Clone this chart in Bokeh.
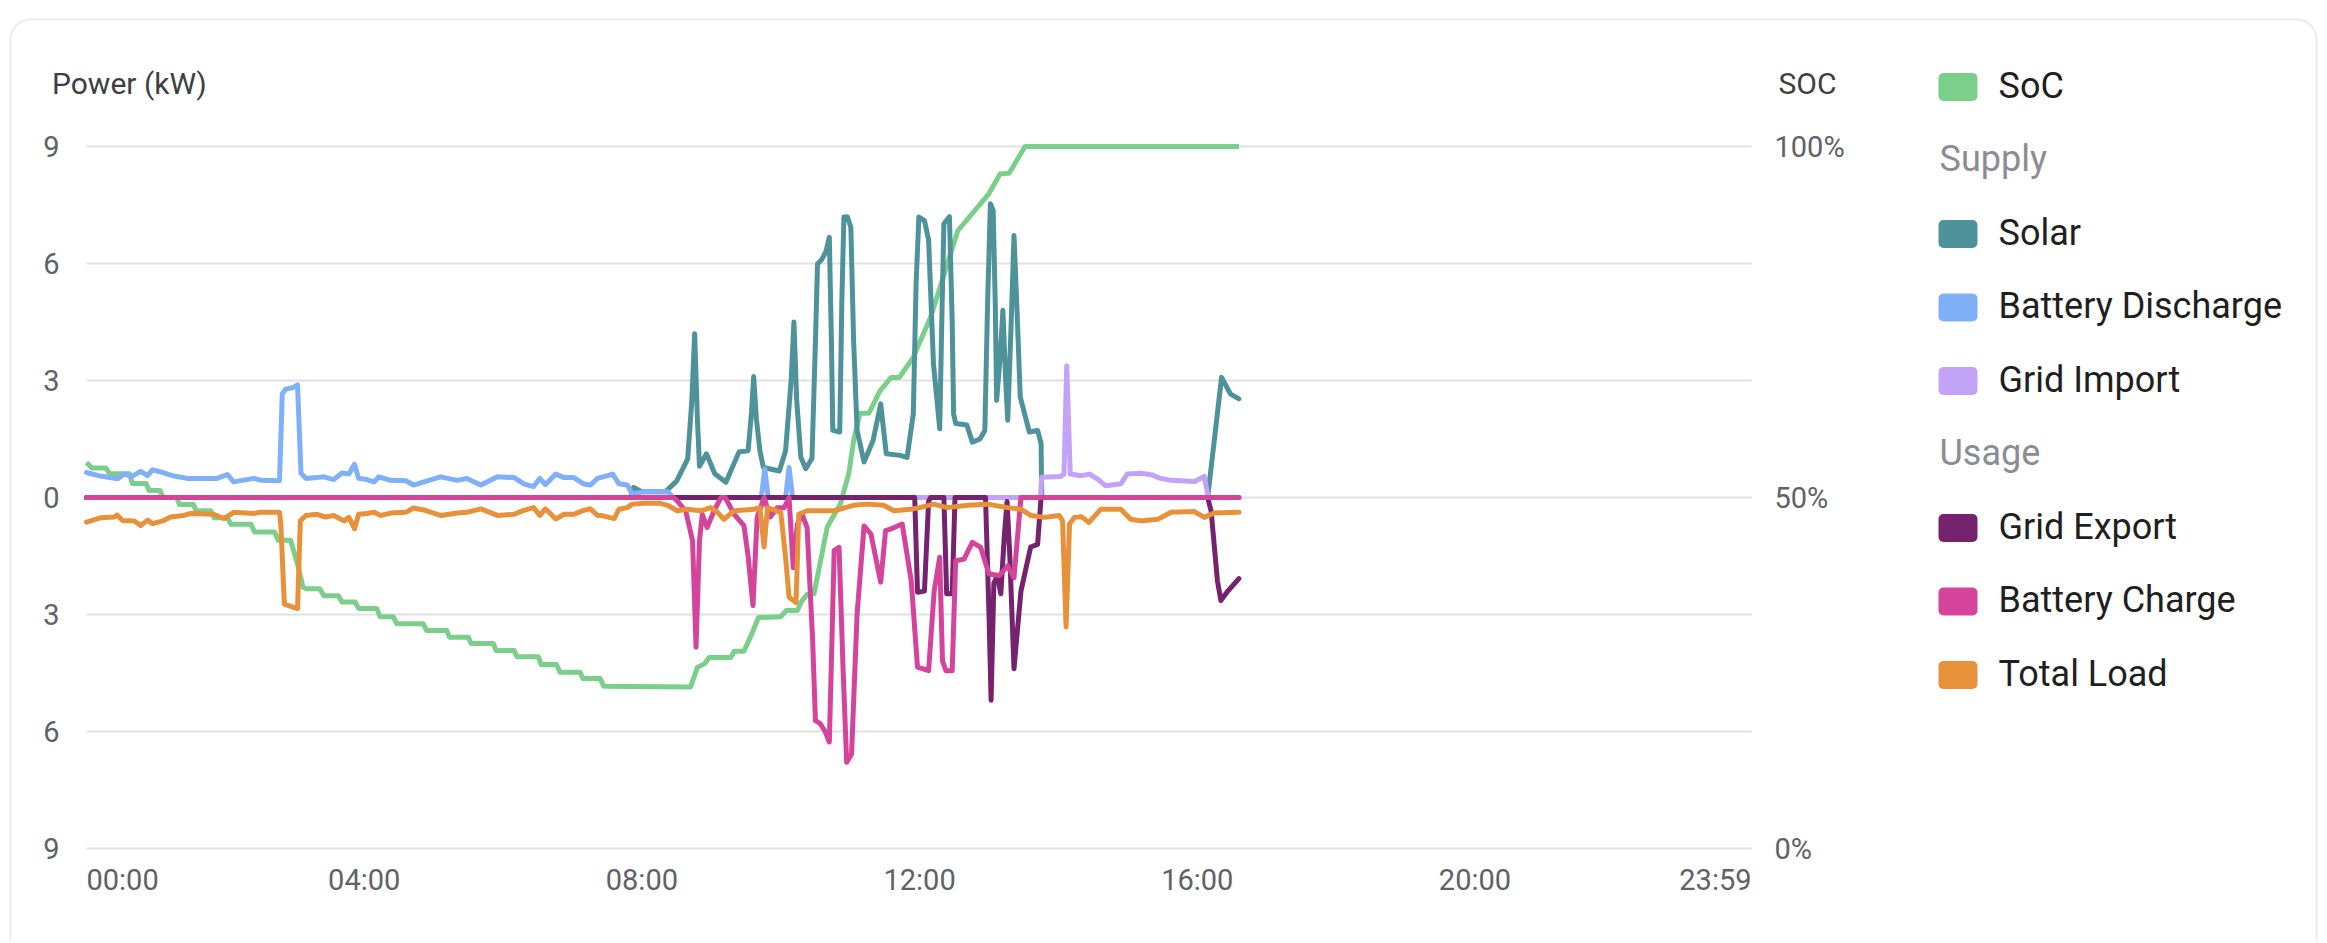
from bokeh.plotting import figure
from bokeh.models import Range1d, LinearAxis, FixedTicker, ColumnDataSource
from bokeh.embed import file_html
from bokeh.resources import INLINE
from bokeh.core.properties import value

# ---------------- data (time in hours, power in kW, SoC in %) ----------------
soc_t = [0.0, 0.08, 0.28, 0.33, 0.62, 0.66, 0.86, 0.9, 1.06, 1.1, 1.3, 1.34, 1.54, 1.58, 1.79,
         1.84, 2.03, 2.08, 2.37, 2.42, 2.71, 2.76, 2.94, 3.04, 3.12, 3.17, 3.36, 3.42, 3.63, 3.68,
         3.87, 3.92, 4.18, 4.23, 4.42, 4.47, 4.85, 4.9, 5.19, 5.23, 5.5, 5.54, 5.86, 5.9, 6.16,
         6.2, 6.51, 6.55, 6.77, 6.82, 7.11, 7.15, 7.4, 7.45, 8.7, 8.8, 8.9, 8.97, 9.28, 9.33,
         9.47, 9.58, 9.68, 10.0, 10.08, 10.24, 10.3, 10.38, 10.48, 10.67, 10.86, 10.98, 11.05,
         11.14, 11.27, 11.43, 11.59, 11.71, 11.91, 12.16, 12.55, 13.0, 13.16, 13.29, 13.52, 16.6]
soc_v = [55.0, 54.2, 54.2, 53.4, 53.4, 52.0, 52.0, 51.0, 51.0, 50.0, 50.0, 49.0, 49.0, 48.1, 48.1,
         47.1, 47.1, 46.2, 46.2, 45.1, 45.1, 43.9, 43.9, 40.5, 37.2, 37.0, 37.0, 36.0, 36.0, 35.1,
         35.1, 34.2, 34.2, 33.0, 33.0, 32.0, 32.0, 31.05, 31.05, 30.1, 30.1, 29.2, 29.2, 28.2, 28.2,
         27.3, 27.3, 26.2, 26.2, 25.1, 25.1, 24.2, 24.2, 23.1, 23.0, 25.8, 26.3, 27.2, 27.2, 28.1,
         28.1, 30.5, 32.9, 33.0, 33.9, 33.9, 35.2, 36.2, 36.3, 45.8, 49.1, 53.4, 58.1,
         62.0, 62.0, 65.2, 67.1, 67.1, 70.0, 75.7, 88.0, 93.3, 96.1, 96.2, 100.0, 100.0]

solar_t = [0.0, 7.84, 7.88, 8.0, 8.34, 8.5, 8.66, 8.72, 8.76, 8.8, 8.83, 8.93, 9.05, 9.21, 9.4,
           9.53, 9.58, 9.61, 9.65, 9.7, 9.75, 9.98, 10.07, 10.15, 10.19, 10.23, 10.29, 10.36,
           10.45, 10.5, 10.53, 10.59, 10.65, 10.7, 10.73, 10.75, 10.85, 10.88, 10.91, 10.96,
           11.01, 11.05, 11.1, 11.2, 11.33, 11.44, 11.52, 11.72, 11.82, 11.91, 11.95, 11.99,
           12.07, 12.13, 12.2, 12.29, 12.32, 12.35, 12.43, 12.47, 12.49, 12.52, 12.68, 12.76,
           12.87, 12.94, 12.98, 13.02, 13.06, 13.09, 13.11, 13.16, 13.2, 13.24, 13.27, 13.32,
           13.36, 13.41, 13.45, 13.58, 13.7, 13.75, 13.76, 16.15, 16.35, 16.48, 16.6]
solar_v = [0.0, 0.0, 0.26, 0.15, 0.15, 0.42, 0.99, 2.5, 4.2, 2.0, 0.8, 1.12, 0.61, 0.39, 1.17,
           1.2, 2.2, 3.1, 2.0, 1.2, 0.77, 0.68, 1.2, 3.0, 4.5, 2.5, 1.03, 0.74,
           1.0, 4.0, 5.99, 6.1, 6.3, 6.67, 4.0, 1.72, 1.68, 5.0, 7.19, 7.2,
           6.93, 4.0, 1.72, 0.91, 1.46, 2.4, 1.12, 1.08, 1.03, 2.15, 5.5, 7.19,
           7.1, 6.6, 3.43, 1.76, 4.5, 7.02, 7.2, 4.5, 2.15, 1.9, 1.86, 1.42,
           1.5, 1.72, 5.0, 7.53, 7.36, 5.0, 2.49, 3.6, 4.8, 3.0, 1.98, 4.5,
           6.72, 4.5, 2.58, 1.68, 1.72, 1.39, 0.0, 0.0, 3.08, 2.65, 2.53]

bdis_t = [0.0, 0.2, 0.45, 0.55, 0.64, 0.78, 0.88, 0.95, 1.1, 1.26, 1.45, 1.88, 2.03, 2.12, 2.41,
          2.52, 2.78, 2.82, 2.87, 2.98, 3.04, 3.09, 3.16, 3.32, 3.42, 3.56, 3.68, 3.78, 3.86,
          3.92, 4.04, 4.14, 4.21, 4.38, 4.6, 4.71, 4.86, 5.1, 5.34, 5.48, 5.68, 5.92, 6.16, 6.3,
          6.44, 6.53, 6.61, 6.76, 6.88, 7.02, 7.16, 7.26, 7.36, 7.44, 7.58, 7.67, 7.79, 7.86,
          8.03, 8.37, 8.45, 9.72, 9.77, 9.82, 10.07, 10.12, 10.17, 16.6]
bdis_v = [0.64, 0.55, 0.48, 0.61, 0.53, 0.67, 0.56, 0.71, 0.64, 0.55, 0.49, 0.49, 0.59, 0.40, 0.49,
          0.44, 0.43, 2.66, 2.78, 2.82, 2.89, 0.62, 0.49, 0.51, 0.53, 0.46, 0.63, 0.60, 0.85,
          0.49, 0.46, 0.40, 0.53, 0.44, 0.43, 0.32, 0.40, 0.53, 0.44, 0.49, 0.32, 0.53, 0.51, 0.35,
          0.28, 0.49, 0.33, 0.60, 0.51, 0.51, 0.35, 0.32, 0.49, 0.53, 0.60, 0.35, 0.32, 0.09,
          0.15, 0.15, 0.0, 0.0, 0.73, 0.0, 0.0, 0.77, 0.0, 0.0]

gimp_t = [0.0, 13.74, 13.76, 14.03, 14.08, 14.12, 14.17, 14.33, 14.45, 14.58, 14.68, 14.9, 14.99,
          15.19, 15.35, 15.45, 15.62, 15.96, 16.1, 16.15, 16.17, 16.6]
gimp_v = [0.0, 0.0, 0.52, 0.54, 0.6, 3.38, 0.6, 0.56, 0.6, 0.45, 0.3, 0.35, 0.6,
          0.62, 0.58, 0.5, 0.44, 0.41, 0.54, 0.08, 0.0, 0.0]

gexp_t = [0.0, 11.93, 11.97, 12.07, 12.13, 12.16, 12.35, 12.39, 12.47, 12.51, 12.95, 13.0, 13.03,
          13.07, 13.12, 13.17, 13.22, 13.26, 13.3, 13.36, 13.46, 13.6, 13.7, 13.75, 16.15, 16.2,
          16.29, 16.34, 16.44, 16.6]
gexp_v = [0.0, 0.0, -2.43, -2.4, -0.1, 0.0, 0.0, -2.47, -2.47, 0.0, 0.0, -3.0, -5.2,
          -2.2, -2.0, -2.47, -1.0, -0.1, -1.5, -4.39, -2.4, -1.27, -1.2, 0.0, 0.0, -0.35,
          -2.13, -2.64, -2.4, -2.08]

bchg_t = [0.0, 8.45, 8.49, 8.63, 8.73, 8.78, 8.83, 8.87, 8.94, 9.04, 9.14, 9.2, 9.33, 9.47, 9.53,
          9.6, 9.66, 9.76, 9.85, 9.95, 10.05, 10.12, 10.18, 10.24, 10.31, 10.38, 10.46, 10.5,
          10.57, 10.64, 10.7, 10.74, 10.77, 10.84, 10.9, 10.95, 11.02, 11.1, 11.2, 11.3, 11.44,
          11.51, 11.61, 11.75, 11.88, 11.97, 12.13, 12.21, 12.29, 12.33, 12.38, 12.47, 12.52,
          12.64, 12.76, 12.88, 13.0, 13.15, 13.27, 13.36, 13.46, 16.6]
bchg_v = [0.0, 0.0, -0.05, -0.34, -1.11, -3.84, -1.1, -0.43, -0.77, -0.34, 0.0, 0.0, -0.43, -0.72, -1.5,
          -2.77, -0.51, 0.0, -0.5, -0.26, -0.26, 0.0, -1.8, -0.68, -0.43, -0.77, -3.67, -5.72,
          -5.8, -6.0, -6.27, -3.5, -1.36, -1.28, -4.5, -6.79, -6.58, -2.99, -0.73, -0.94, -2.17,
          -0.85, -0.79, -0.68, -2.14, -4.35, -4.44, -2.4, -1.53, -4.19, -4.44, -4.44, -1.62,
          -1.58, -1.15, -1.28, -1.96, -2.0, -1.75, -2.06, 0.0, 0.0]

load_t = [0.0, 0.2, 0.4, 0.44, 0.52, 0.69, 0.78, 0.88, 0.95, 1.1, 1.21, 1.4, 1.5, 1.83, 1.98, 2.12,
          2.41, 2.5, 2.78, 2.8, 2.85, 2.94, 3.04, 3.08, 3.16, 3.32, 3.44, 3.56, 3.71, 3.78, 3.86,
          3.92, 4.04, 4.14, 4.24, 4.38, 4.6, 4.71, 4.86, 5.1, 5.34, 5.48, 5.68, 5.92, 6.16, 6.3,
          6.44, 6.53, 6.61, 6.76, 6.88, 7.02, 7.16, 7.26, 7.36, 7.41, 7.6, 7.67, 7.79, 7.86, 8.03,
          8.27, 8.37, 8.51, 8.65, 8.85, 8.99, 9.09, 9.18, 9.33, 9.62, 9.7, 9.76, 9.81, 10.0, 10.07,
          10.12, 10.22, 10.26, 10.38, 10.77, 11.05, 11.24, 11.48, 11.63, 11.87, 12.0, 12.2, 12.4,
          12.69, 12.98, 13.27, 13.46, 13.6, 13.8, 14.01, 14.06, 14.11, 14.16, 14.23, 14.33, 14.44,
          14.61, 14.9, 15.04, 15.19, 15.43, 15.62, 15.96, 16.1, 16.24, 16.6]
load_v = [-0.63, -0.52, -0.5, -0.45, -0.59, -0.6, -0.72, -0.58, -0.67, -0.6, -0.5, -0.46, -0.41,
          -0.43, -0.54, -0.38, -0.41, -0.38, -0.38, -0.72, -2.73, -2.79, -2.85, -0.6, -0.46, -0.43,
          -0.5, -0.46, -0.6, -0.51, -0.8, -0.43, -0.41, -0.38, -0.46, -0.4, -0.38, -0.27, -0.32,
          -0.46, -0.4, -0.38, -0.29, -0.46, -0.43, -0.33, -0.26, -0.46, -0.29, -0.55, -0.43, -0.43,
          -0.33, -0.29, -0.46, -0.46, -0.54, -0.3, -0.26, -0.17, -0.15, -0.15, -0.2, -0.34, -0.3,
          -0.34, -0.26, -0.38, -0.56, -0.34, -0.3, -0.26, -1.27, -0.26, -0.38, -1.54, -2.56, -2.69,
          -0.43, -0.34, -0.34, -0.2, -0.17, -0.2, -0.34, -0.3, -0.26, -0.17, -0.26, -0.2, -0.17,
          -0.26, -0.3, -0.46, -0.51, -0.46, -0.6, -3.32, -0.68, -0.51, -0.49, -0.64, -0.3, -0.3,
          -0.56, -0.6, -0.56, -0.38, -0.36, -0.51, -0.4, -0.38]

power_ticks = [-9, -6, -3, 0, 3, 6, 9]
power_labels = ["9", "6", "3", "0", "3", "6", "9"]
soc_ticks = [0, 50, 100]
soc_labels = ["0%", "50%", "100%"]
X_END = 23 + 59 / 60
time_ticks = [0, 4, 8, 12, 16, 20, X_END]
time_labels = ["00:00", "04:00", "08:00", "12:00", "16:00", "20:00", "23:59"]

series_names = ["SoC", "Solar", "Battery Discharge", "Grid Import", "Grid Export", "Battery Charge", "Total Load"]
series_colors = ["#7ccf8a", "#4e9399", "#80b0f7", "#c3a3f7", "#75226f", "#d4449b", "#e8913b"]
legend_rows = ["SoC", "Supply", "Solar", "Battery Discharge", "Grid Import", "Usage",
               "Grid Export", "Battery Charge", "Total Load"]

# ---------------- layout constants (page pixels) ----------------
PAGE_L, PAGE_T, W, H = 0, 0, 2325, 941
PLOT_L, PLOT_R, PLOT_T, PLOT_B = 86, 1751, 146, 848      # plotting area (00:00..23:59, +9..-9)
pph = (PLOT_R - PLOT_L) / X_END                           # px per hour
ppk = (PLOT_B - PLOT_T) / 18.0                            # px per kW
pps = (PLOT_B - PLOT_T) / 100.0                           # px per % SoC

x_rng = Range1d(-(PLOT_L - PAGE_L) / pph, X_END + (PAGE_L + W - PLOT_R) / pph)
y_rng = Range1d(-9 - (PAGE_T + H - PLOT_B) / ppk, 9 + (PLOT_T - PAGE_T) / ppk)

FONT = "Roboto"
p = figure(width=W, height=H, x_range=x_rng, y_range=y_rng, output_backend="svg",
           toolbar_location=None, x_axis_location=None, y_axis_location=None, min_border=0)
p.title.visible = False
p.outline_line_color = None
p.background_fill_color = "white"
p.border_fill_color = "white"
p.xgrid.visible = False
p.ygrid.visible = False
p.extra_y_ranges = {"soc": Range1d(-(PAGE_T + H - PLOT_B) / pps, 100 + (PLOT_T - PAGE_T) / pps),
                    "px": Range1d(PAGE_T + H, PAGE_T)}
p.extra_x_ranges = {"px": Range1d(PAGE_L, PAGE_L + W)}

# card outline
try:
    p.quad(left=[10], right=[2316], top=[19], bottom=[1000], x_range_name="px", y_range_name="px",
           fill_color=None, line_color="#ebebeb", line_width=2, border_radius=20)
except Exception:
    p.quad(left=[10], right=[2316], top=[19], bottom=[1000], x_range_name="px", y_range_name="px",
           fill_color=None, line_color="#ebebeb", line_width=2)

# horizontal grid lines at the power ticks
p.segment(x0=[0] * len(power_ticks), x1=[X_END] * len(power_ticks), y0=power_ticks, y1=power_ticks,
          line_color="#e1e1e1", line_width=2)

# axes drawn at the edges of the plotting area
ya = LinearAxis(ticker=FixedTicker(ticks=power_ticks), fixed_location=0,
                major_label_overrides={t: s for t, s in zip(power_ticks, power_labels)})
ra = LinearAxis(y_range_name="soc", ticker=FixedTicker(ticks=soc_ticks), fixed_location=X_END,
                major_label_overrides={t: s for t, s in zip(soc_ticks, soc_labels)})
for ax, standoff in ((ya, 21), (ra, 17)):
    ax.axis_line_color = None
    ax.major_tick_line_color = None
    ax.minor_tick_line_color = None
    ax.major_label_standoff = standoff
    ax.major_label_text_font = FONT
    ax.major_label_text_font_size = "29px"
    ax.major_label_text_color = "#5f6368"
p.add_layout(ya, "left")
p.add_layout(ra, "right")

# series
LW = 5
p.line(soc_t, soc_v, y_range_name="soc", line_color=series_colors[0], line_width=LW, line_join="round")
for t, v, c in [(solar_t, solar_v, series_colors[1]), (bdis_t, bdis_v, series_colors[2]),
                (gimp_t, gimp_v, series_colors[3]), (gexp_t, gexp_v, series_colors[4]),
                (bchg_t, bchg_v, series_colors[5]), (load_t, load_v, series_colors[6])]:
    p.line(t, v, line_color=c, line_width=LW, line_join="round", line_cap="round")

# time tick labels (first flush left, last flush right)
for i, (t, s) in enumerate(zip(time_ticks, time_labels)):
    align = "left" if i == 0 else ("right" if i == len(time_ticks) - 1 else "center")
    p.text(x=[t], y=[-9], text=[s], y_offset=31.5, text_align=align, text_baseline="middle",
           text_font=value(FONT), text_font_size="29px", text_color="#5f6368")

# axis titles
p.text(x=[51.5], y=[83], text=["Power (kW)"], x_range_name="px", y_range_name="px",
       text_align="left", text_baseline="middle", text_font=value(FONT),
       text_font_size="30px", text_color="#3c4043")
p.text(x=[1807], y=[83], text=["SOC"], x_range_name="px", y_range_name="px",
       text_align="center", text_baseline="middle", text_font=value(FONT),
       text_font_size="30px", text_color="#3c4043")

# legend
MID0, STEP = 85.0, 73.5
sw_l, sw_r, sw_top, sw_bot, sw_col = [], [], [], [], []
txt_x, txt_y, txt_s = [], [], []
hd_x, hd_y, hd_s = [], [], []
for k, name in enumerate(legend_rows):
    mid = MID0 + STEP * k
    if name in series_names:
        sw_l.append(1938); sw_r.append(1977); sw_top.append(mid - 12.5); sw_bot.append(mid + 15.5)
        sw_col.append(series_colors[series_names.index(name)])
        txt_x.append(1998); txt_y.append(mid); txt_s.append(name)
    else:
        hd_x.append(1939); hd_y.append(mid); hd_s.append(name)

sw_src = ColumnDataSource(dict(left=sw_l, right=sw_r, top=sw_top, bottom=sw_bot, color=sw_col))
try:
    p.quad(left="left", right="right", top="top", bottom="bottom", fill_color="color",
           line_color=None, border_radius=5, source=sw_src, x_range_name="px", y_range_name="px")
except Exception:
    p.quad(left="left", right="right", top="top", bottom="bottom", fill_color="color",
           line_color=None, source=sw_src, x_range_name="px", y_range_name="px")
p.text(txt_x, txt_y, text=txt_s, x_range_name="px", y_range_name="px", text_font=value(FONT),
       text_font_size="36px", text_baseline="middle", text_color="#1f1f1f")
p.text(hd_x, hd_y, text=hd_s, x_range_name="px", y_range_name="px", text_font=value(FONT),
       text_font_size="36px", text_baseline="middle", text_color="#8a8d91")

open("out.html", "w").write(file_html(p, INLINE))
